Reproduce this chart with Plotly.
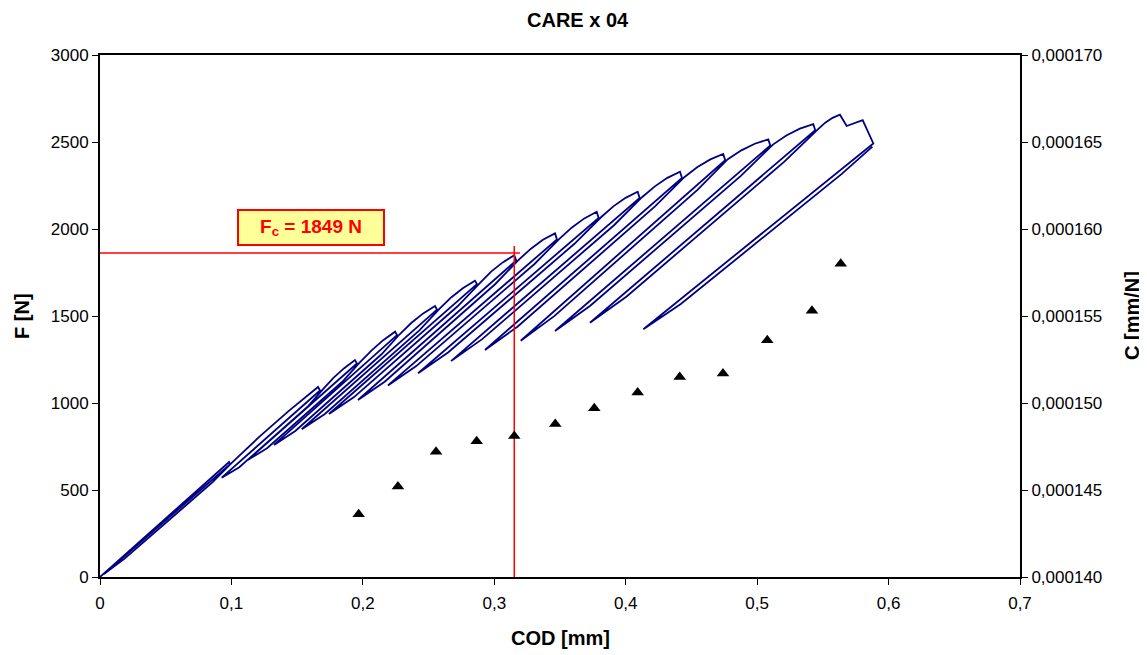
import plotly.graph_objects as go

# ---------------- data ----------------
# F-COD loading/unloading path (COD in mm, F in N):
# per cycle: peak, drop, valley, reload (2 pts), rejoin, envelope (2 pts)
cod_path = [
    0.0000,
    0.0982, 0.0990, 0.0030, 0.0185, 0.0857, 0.1000, 0.1220, 0.1439,
    0.1659, 0.1674, 0.0926, 0.1060, 0.1584, 0.1694, 0.1776, 0.1858,
    0.1940, 0.1955, 0.1124, 0.1271, 0.1852, 0.1975, 0.2065, 0.2155,
    0.2245, 0.2260, 0.1324, 0.1486, 0.2142, 0.2280, 0.2370, 0.2459,
    0.2549, 0.2564, 0.1535, 0.1711, 0.2432, 0.2584, 0.2674, 0.2763,
    0.2853, 0.2868, 0.1742, 0.1933, 0.2721, 0.2888, 0.2976, 0.3064,
    0.3152, 0.3167, 0.1963, 0.2166, 0.3008, 0.3187, 0.3279, 0.3370,
    0.3462, 0.3477, 0.2191, 0.2406, 0.3306, 0.3497, 0.3591, 0.3685,
    0.3779, 0.3794, 0.2420, 0.2648, 0.3610, 0.3814, 0.3906, 0.3999,
    0.4091, 0.4106, 0.2671, 0.2908, 0.3913, 0.4126, 0.4222, 0.4317,
    0.4413, 0.4428, 0.2929, 0.3176, 0.4225, 0.4448, 0.4546, 0.4644,
    0.4742, 0.4757, 0.3201, 0.3456, 0.4546, 0.4777, 0.4880, 0.4982,
    0.5085, 0.5100, 0.3462, 0.3730, 0.4876, 0.5120, 0.5222, 0.5325,
    0.5427, 0.5442, 0.3728, 0.4007, 0.5207, 0.5462, 0.5518, 0.5574,
    0.5630, 0.5681, 0.5803, 0.5884, 0.4134, 0.4419, 0.5644, 0.5877,
]
F_path = [
    0,
    661, 648, 17, 104, 545, 655, 811, 956,
    1092, 1072, 571, 631, 982, 1077, 1144, 1200,
    1247, 1227, 672, 740, 1129, 1232, 1301, 1361,
    1410, 1390, 759, 839, 1280, 1395, 1461, 1515,
    1557, 1537, 849, 937, 1419, 1542, 1608, 1661,
    1703, 1683, 937, 1034, 1556, 1688, 1755, 1808,
    1849, 1819, 1017, 1122, 1684, 1824, 1887, 1938,
    1975, 1940, 1101, 1212, 1799, 1945, 2009, 2061,
    2099, 2064, 1171, 1290, 1915, 2069, 2130, 2179,
    2214, 2179, 1241, 1367, 2023, 2184, 2245, 2294,
    2329, 2294, 1305, 1438, 2131, 2299, 2356, 2400,
    2431, 2396, 1358, 1499, 2225, 2401, 2452, 2490,
    2515, 2480, 1414, 1559, 2305, 2485, 2537, 2577,
    2603, 2568, 1461, 1612, 2387, 2573, 2611, 2639,
    2657, 2592, 2626, 2492, 1424, 1569, 2317, 2473,
]

# Compliance C (mm/N) at each cycle
C_cod = [0.1968, 0.2267, 0.2557, 0.2866, 0.3152, 0.3464, 0.3761,
         0.4091, 0.4411, 0.4740, 0.5077, 0.5417, 0.5636]
C_val = [0.0001436, 0.0001452, 0.0001472, 0.0001478, 0.0001481, 0.0001488,
         0.0001497, 0.0001506, 0.0001515, 0.0001517, 0.0001536, 0.0001553,
         0.0001580]

# Critical force marker lines
Fc_value = 1849
Fc_h_cod = [0.0, 0.3195]
Fc_h_F = [1862, 1862]
Fc_v_cod = [0.3152, 0.3152]
Fc_v_F = [0, 1902]

# tick labels
x_tickvals = [0, 0.1, 0.2, 0.3, 0.4, 0.5, 0.6, 0.7]
x_ticktext = ["0", "0,1", "0,2", "0,3", "0,4", "0,5", "0,6", "0,7"]
y_tickvals = [0, 500, 1000, 1500, 2000, 2500, 3000]
y2_tickvals = [0.000140, 0.000145, 0.000150, 0.000155, 0.000160, 0.000165, 0.000170]
y2_ticktext = ["0,000140", "0,000145", "0,000150", "0,000155", "0,000160",
               "0,000165", "0,000170"]

# ---------------- figure ----------------
FONT = "Liberation Sans, Arial, sans-serif"
fig = go.Figure()

fig.add_trace(go.Scatter(x=cod_path, y=F_path, mode="lines",
                         line=dict(color="#000080", width=1.8),
                         showlegend=False, hoverinfo="skip"))
fig.add_trace(go.Scatter(x=Fc_h_cod, y=Fc_h_F, mode="lines",
                         line=dict(color="#FF0000", width=1.5),
                         showlegend=False, hoverinfo="skip"))
fig.add_trace(go.Scatter(x=Fc_v_cod, y=Fc_v_F, mode="lines",
                         line=dict(color="#FF0000", width=1.5),
                         showlegend=False, hoverinfo="skip"))
fig.add_trace(go.Scatter(x=C_cod, y=C_val, mode="markers", yaxis="y2",
                         marker=dict(symbol="triangle-up", size=11, color="black"),
                         showlegend=False))

tickfont = dict(family=FONT, size=17, color="black")
titlefont = dict(family=FONT, size=20, color="black")

# page body has an 8px margin: plot area lands at x 100..1020, y 55..577
fig.update_layout(
    width=1139, height=647,
    margin=dict(l=92, r=127, t=47, b=78),
    paper_bgcolor="white", plot_bgcolor="white",
    font=dict(family=FONT, color="black"),
    xaxis=dict(range=[0, 0.7], tickvals=x_tickvals, ticktext=x_ticktext,
               showgrid=False, zeroline=False, showline=True, linewidth=2,
               linecolor="black", mirror=True, ticks="outside", ticklen=6,
               tickwidth=1, tickcolor="black", tickfont=tickfont,
               ticklabelstandoff=4),
    yaxis=dict(range=[0, 3000], tickvals=y_tickvals,
               showgrid=False, zeroline=False, showline=True, linewidth=2,
               linecolor="black", ticks="outside", ticklen=6, tickwidth=1,
               tickcolor="black", tickfont=tickfont),
    yaxis2=dict(range=[0.00014, 0.00017], overlaying="y", side="right",
                tickvals=y2_tickvals, ticktext=y2_ticktext,
                showgrid=False, zeroline=False, showline=True, linewidth=2,
                linecolor="black", ticks="outside", ticklen=6, tickwidth=1,
                tickcolor="black", tickfont=tickfont),
    annotations=[
        dict(text="<b>CARE x 04</b>", xref="paper", yref="paper",
             x=(578 - 100) / 920, y=(577 - 20) / 522, showarrow=False,
             xanchor="center", yanchor="middle", font=titlefont),
        dict(text="<b>COD [mm]</b>", xref="paper", yref="paper",
             x=(560 - 100) / 920, y=(577 - 638) / 522, showarrow=False,
             xanchor="center", yanchor="middle", font=titlefont),
        dict(text="<b>F [N]</b>", xref="paper", yref="paper",
             x=(22 - 100) / 920, y=0.5, showarrow=False, textangle=-90,
             xanchor="center", yanchor="middle", font=titlefont),
        dict(text="<b>C [mm/N]</b>", xref="paper", yref="paper",
             x=(1132 - 100) / 920, y=0.5, showarrow=False, textangle=-90,
             xanchor="center", yanchor="middle", font=titlefont),
        dict(text="<b>F<sub>c</sub> = %d N</b>" % Fc_value, xref="x", yref="y",
             x=0.1605, y=2006, showarrow=False, xanchor="center",
             yanchor="middle", bgcolor="#FFFF99", bordercolor="#FF0000",
             borderwidth=2, borderpad=2, width=140, height=29,
             font=dict(family=FONT, size=19, color="#FF0000")),
    ],
)

fig.write_html("out.html")
